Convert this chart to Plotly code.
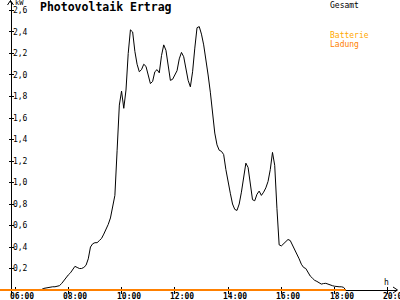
import plotly.graph_objects as go
import pandas as pd

# ---- data ----
day = "2024-06-01 "
gesamt_times = [
    "05:25", "06:55", "07:00", "07:05", "07:10", "07:15", "07:20", "07:25", "07:30", "07:35",
    "07:40", "07:45", "07:50", "07:55", "08:00", "08:05", "08:10", "08:15", "08:20", "08:25",
    "08:30", "08:35", "08:40", "08:45", "08:50", "08:55", "09:00", "09:05", "09:10", "09:15",
    "09:20", "09:25", "09:30", "09:35", "09:40", "09:45", "09:50", "09:55", "10:00", "10:05",
    "10:10", "10:15", "10:20", "10:25", "10:30", "10:35", "10:40", "10:45", "10:50", "10:55",
    "11:00", "11:05", "11:10", "11:15", "11:20", "11:25", "11:30", "11:35", "11:40", "11:45",
    "11:50", "11:55", "12:00", "12:05", "12:10", "12:15", "12:20", "12:25", "12:30", "12:35",
    "12:40", "12:45", "12:50", "12:55", "13:00", "13:05", "13:10", "13:15", "13:20", "13:25",
    "13:30", "13:35", "13:40", "13:45", "13:50", "13:55", "14:00", "14:05", "14:10", "14:15",
    "14:20", "14:25", "14:30", "14:35", "14:40", "14:45", "14:50", "14:55", "15:00", "15:05",
    "15:10", "15:15", "15:20", "15:25", "15:30", "15:35", "15:40", "15:45", "15:50", "15:55",
    "16:00", "16:05", "16:10", "16:15", "16:20", "16:25", "16:30", "16:35", "16:40", "16:45",
    "16:50", "16:55", "17:00", "17:05", "17:10", "17:15", "17:20", "17:25", "17:30", "17:35",
    "17:40", "17:45", "17:50", "17:55", "18:00", "18:05", "18:10", "18:15", "18:20", "18:25",
]
gesamt_kw = [
    0.0, 0.0, 0.005, 0.015, 0.02, 0.025, 0.025, 0.03, 0.03, 0.035,
    0.04, 0.06, 0.09, 0.12, 0.14, 0.16, 0.19, 0.22, 0.21, 0.20,
    0.20, 0.21, 0.23, 0.29, 0.40, 0.43, 0.44, 0.44, 0.46, 0.48,
    0.52, 0.56, 0.61, 0.67, 0.76, 0.88, 1.30, 1.72, 1.85, 1.69,
    1.86, 2.20, 2.42, 2.40, 2.22, 2.10, 2.03, 2.05, 2.10, 2.08,
    2.00, 1.92, 1.94, 2.03, 2.05, 2.02, 2.18, 2.28, 2.23, 2.08,
    1.95, 1.96, 2.00, 2.04, 2.15, 2.21, 2.17, 2.07, 1.95, 1.89,
    2.03, 2.25, 2.44, 2.45, 2.38, 2.28, 2.15, 2.00, 1.84, 1.63,
    1.46, 1.35, 1.30, 1.29, 1.26, 1.12, 0.99, 0.90, 0.80, 0.75,
    0.74, 0.80, 0.91, 1.04, 1.18, 1.14, 0.98, 0.84, 0.83, 0.89,
    0.92, 0.88, 0.91, 0.95, 1.01, 1.12, 1.28, 1.16, 0.76, 0.42,
    0.41, 0.43, 0.45, 0.47, 0.46, 0.42, 0.38, 0.33, 0.29, 0.24,
    0.21, 0.20, 0.16, 0.13, 0.11, 0.09, 0.08, 0.065, 0.055, 0.06,
    0.062, 0.055, 0.045, 0.04, 0.035, 0.03, 0.03, 0.03, 0.025, 0.0,
]
ladung_times = ["05:20", "18:25"]
ladung_kw = [0.0, 0.0]

x_tick_labels = ["06:00", "08:00", "10:00", "12:00", "14:00", "16:00", "18:00", "20:00"]
y_tick_vals = [0.2, 0.4, 0.6, 0.8, 1.0, 1.2, 1.4, 1.6, 1.8, 2.0, 2.2, 2.4, 2.6]
y_tick_labels = [f"{v:.1f}".replace(".", ",") for v in y_tick_vals]

x_range = ["2024-06-01 05:26:13", "2024-06-01 20:20:27"]
Y_LO = -0.0465   # 5 px below zero so the zero line is not clipped
y_range = [Y_LO, 2.679]

MONO = "DejaVu Sans Mono"

fig = go.Figure()
fig.add_trace(go.Scatter(
    x=pd.to_datetime([day + t for t in gesamt_times]), y=gesamt_kw,
    mode="lines", line=dict(color="black", width=1), showlegend=False,
))
fig.add_trace(go.Scatter(
    x=pd.to_datetime([day + t for t in ladung_times]), y=ladung_kw,
    mode="lines", line=dict(color="#FF8000", width=2), showlegend=False,
))

tickv = pd.to_datetime([day + t for t in x_tick_labels])
axis_font = dict(family=MONO, size=8, color="black")
zero_pos = -Y_LO / (y_range[1] - Y_LO)
yaxis_pos = 10.5 / 397

fig.update_layout(
    width=400, height=300,
    margin=dict(l=0, r=3, t=2, b=5, autoexpand=False),
    paper_bgcolor="white", plot_bgcolor="white",
    showlegend=False,
    xaxis=dict(
        range=x_range, type="date", tickvals=tickv, showticklabels=False,
        anchor="free", position=zero_pos, layer="below traces", automargin=False,
        showgrid=False, zeroline=False, showline=True, linecolor="black", linewidth=1,
        ticks="outside", ticklen=3, tickcolor="black", tickwidth=1,
    ),
    xaxis2=dict(
        range=x_range, type="date", tickvals=tickv, showticklabels=False,
        overlaying="x", anchor="free", position=zero_pos, side="bottom",
        showgrid=False, zeroline=False, layer="below traces", automargin=False,
        ticks="inside", ticklen=3, tickcolor="black", tickwidth=1, showline=False,
    ),
    yaxis=dict(
        range=y_range, tickvals=y_tick_vals, ticktext=y_tick_labels,
        anchor="free", position=yaxis_pos, side="left", layer="below traces",
        showgrid=False, zeroline=False, showline=True, linecolor="black", linewidth=1,
        ticks="outside", ticklen=2, tickcolor="black", tickwidth=1,
        ticklabelposition="inside", tickfont=axis_font, automargin=False,
    ),
    yaxis2=dict(
        range=y_range, tickvals=y_tick_vals, showticklabels=False,
        overlaying="y", anchor="free", position=yaxis_pos, side="left",
        showgrid=False, zeroline=False, showline=False, layer="below traces",
        ticks="inside", ticklen=2, tickcolor="black", tickwidth=1, automargin=False,
    ),
)
# invisible helper trace so the secondary axes are drawn
fig.add_trace(go.Scatter(x=[tickv[0]], y=[0], xaxis="x2", yaxis="y2",
                         mode="markers", marker=dict(opacity=0), showlegend=False,
                         hoverinfo="skip"))

PLOT_TOP, PLOT_BOTTOM = 2.0, 295.0


def px(xp):
    return xp / 397.0


def py(yp):
    return (PLOT_BOTTOM - yp) / (PLOT_BOTTOM - PLOT_TOP)


shapes = [
    # y-axis arrow
    dict(type="path", xref="paper", yref="paper",
         path=f"M {px(7.5)} {py(5)} L {px(10.5)} {py(0.5)} L {px(13.5)} {py(5)}",
         line=dict(color="black", width=1)),
    dict(type="line", xref="paper", yref="paper", x0=px(10.5), x1=px(10.5), y0=py(2.5), y1=py(0.5),
         line=dict(color="black", width=1)),
    # x-axis arrow
    dict(type="path", xref="paper", yref="paper",
         path=f"M {px(393)} {py(287)} L {px(397.5)} {py(290)} L {px(393)} {py(293)}",
         line=dict(color="black", width=1)),
]
fig.update_layout(shapes=shapes)

annotations = [
    dict(text="<b>Photovoltaik Ertrag</b>", x=px(38), y=py(7.5), xref="paper", yref="paper",
         xanchor="left", yanchor="middle", showarrow=False,
         font=dict(family=MONO, size=11.5, color="black")),
    dict(text="Gesamt", x=px(328), y=py(5), xref="paper", yref="paper",
         xanchor="left", yanchor="middle", showarrow=False,
         font=dict(family=MONO, size=8, color="black")),
    dict(text="Batterie", x=px(328), y=py(36), xref="paper", yref="paper",
         xanchor="left", yanchor="middle", showarrow=False,
         font=dict(family=MONO, size=8, color="#FFA800")),
    dict(text="Ladung", x=px(328), y=py(44), xref="paper", yref="paper",
         xanchor="left", yanchor="middle", showarrow=False,
         font=dict(family=MONO, size=8, color="#FF8000")),
    dict(text="kW", x=px(13), y=py(3), xref="paper", yref="paper",
         xanchor="left", yanchor="middle", showarrow=False,
         font=dict(family=MONO, size=7, color="black")),
    dict(text="h", x=px(386), y=py(282), xref="paper", yref="paper",
         xanchor="center", yanchor="middle", showarrow=False,
         font=dict(family=MONO, size=8, color="black")),
]
# x tick labels, placed under each tick (shifted right like the original)
for tv, lab in zip(tickv, x_tick_labels):
    annotations.append(dict(
        text=f"<b>{lab}</b>", x=tv, xref="x", y=py(296.5), yref="paper",
        xanchor="center", yanchor="middle", xshift=7, showarrow=False,
        font=dict(family=MONO, size=8, color="black"),
    ))
fig.update_layout(annotations=annotations)

fig.write_html("out.html")
